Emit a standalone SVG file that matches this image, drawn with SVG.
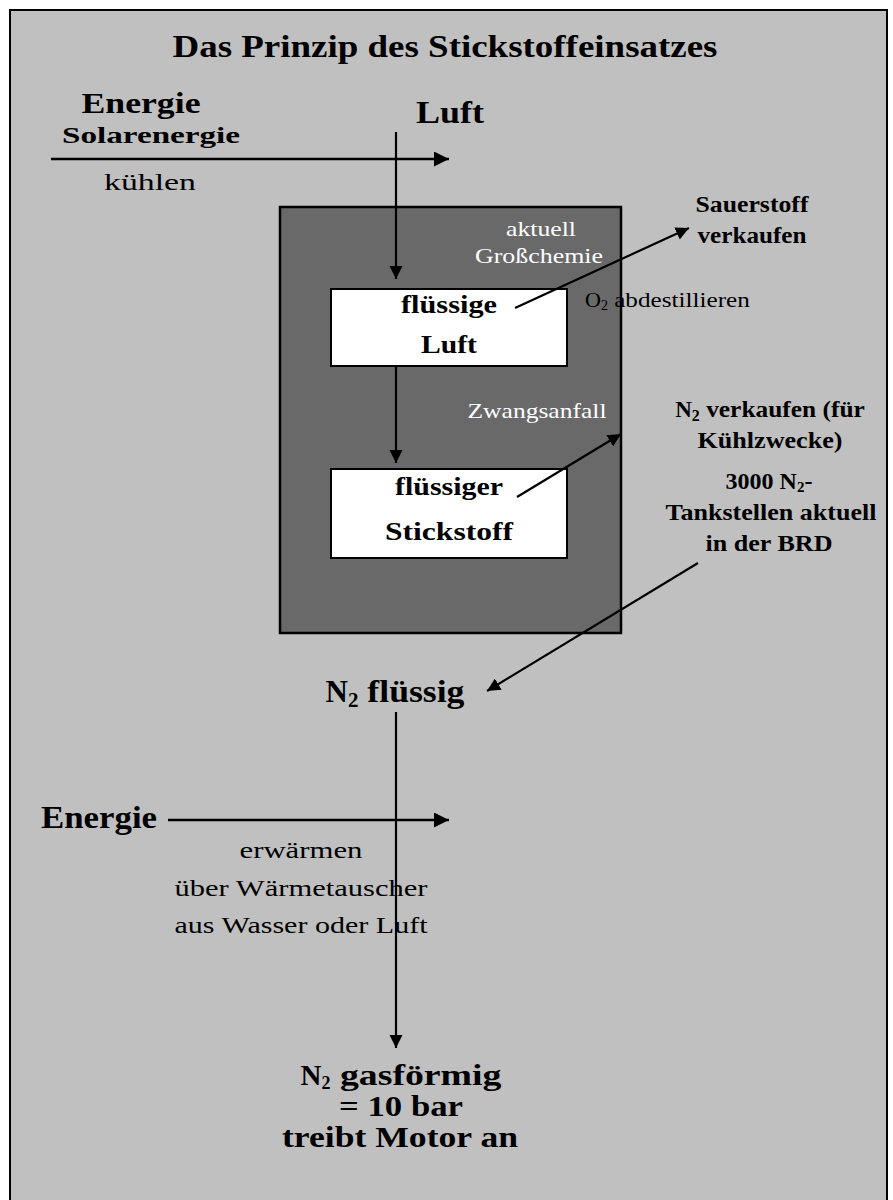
<svg xmlns="http://www.w3.org/2000/svg" width="893" height="1200" viewBox="0 0 893 1200">
<style>
text{font-family:"Liberation Serif","DejaVu Serif",serif;fill:#000}
.b{font-weight:bold}
.w{fill:#fff}
.c{text-anchor:middle}
.ln{stroke:#000;stroke-width:2.5;fill:none}
.ln2{stroke:#000;stroke-width:2.2;fill:none}
</style>
<defs>
<marker id="ah" viewBox="0 0 10 10" refX="10" refY="5" markerWidth="6" markerHeight="6" orient="auto" markerUnits="strokeWidth">
<path d="M0,0 L10,5 L0,10 z" fill="#000"/>
</marker>
</defs>
<rect x="0" y="0" width="893" height="1200" fill="#fff"/>
<rect x="10" y="10" width="877" height="1200" fill="#c0c0c0" stroke="#000" stroke-width="2"/>

<g id="title"><text class="b c" x="445" y="57" font-size="31" textLength="545" lengthAdjust="spacingAndGlyphs">Das Prinzip des Stickstoffeinsatzes</text></g>

<g id="energie1">
<text class="b c" x="141" y="113" font-size="29" textLength="119" lengthAdjust="spacingAndGlyphs">Energie</text>
<text class="b c" x="151" y="143" font-size="24" textLength="178" lengthAdjust="spacingAndGlyphs">Solarenergie</text>
</g>
<g id="kuehlen"><text class="c" x="150" y="190" font-size="23" textLength="92" lengthAdjust="spacingAndGlyphs">kühlen</text></g>
<g id="luft"><text class="b c" x="450" y="123" font-size="31" textLength="68" lengthAdjust="spacingAndGlyphs">Luft</text></g>

<g id="anlage"><rect x="280" y="207" width="341" height="426" fill="#696969" stroke="#000" stroke-width="2.5"/></g>
<g id="aktuell">
<text class="w c" x="541" y="236" font-size="21" textLength="70" lengthAdjust="spacingAndGlyphs">aktuell</text>
<text class="w c" x="539" y="263" font-size="21" textLength="128" lengthAdjust="spacingAndGlyphs">Großchemie</text>
</g>
<g id="zwangsanfall"><text class="w c" x="537" y="418" font-size="21" textLength="139" lengthAdjust="spacingAndGlyphs">Zwangsanfall</text></g>

<g id="fluessigeLuft">
<rect x="331" y="289" width="236" height="77" fill="#fff" stroke="#000" stroke-width="2"/>
<text class="b c" x="449" y="313" font-size="25" textLength="96" lengthAdjust="spacingAndGlyphs">flüssige</text>
<text class="b c" x="449" y="353" font-size="25" textLength="56" lengthAdjust="spacingAndGlyphs">Luft</text>
</g>
<g id="fluessigerStickstoff">
<rect x="331" y="469" width="236" height="89" fill="#fff" stroke="#000" stroke-width="2"/>
<text class="b c" x="449" y="495" font-size="25" textLength="108" lengthAdjust="spacingAndGlyphs">flüssiger</text>
<text class="b c" x="449" y="540" font-size="25" textLength="128" lengthAdjust="spacingAndGlyphs">Stickstoff</text>
</g>

<g id="sauerstoff">
<text class="b c" x="752" y="212" font-size="23" textLength="113" lengthAdjust="spacingAndGlyphs">Sauerstoff</text>
<text class="b c" x="752" y="243" font-size="23" textLength="109" lengthAdjust="spacingAndGlyphs">verkaufen</text>
</g>
<g id="o2"><text x="585" y="307" font-size="22">O<tspan font-size="14" dy="3">2</tspan><tspan dy="-3" textLength="142" lengthAdjust="spacingAndGlyphs"> abdestillieren</tspan></text></g>

<g id="n2verkaufen">
<text class="b c" x="770" y="417" font-size="23">N<tspan font-size="16" dy="4">2</tspan><tspan dy="-4" textLength="165" lengthAdjust="spacingAndGlyphs"> verkaufen (für</tspan></text>
<text class="b c" x="770" y="448" font-size="23" textLength="145" lengthAdjust="spacingAndGlyphs">Kühlzwecke)</text>
<text class="b c" x="769" y="489" font-size="24">3000 N<tspan font-size="15" dy="3">2</tspan><tspan dy="-3">-</tspan></text>
<text class="b c" x="771" y="520" font-size="23" textLength="211" lengthAdjust="spacingAndGlyphs">Tankstellen aktuell</text>
<text class="b c" x="769" y="551" font-size="23" textLength="127" lengthAdjust="spacingAndGlyphs">in der BRD</text>
</g>

<g id="n2fluessig"><text class="b c" x="395" y="702" font-size="31">N<tspan font-size="21" dy="5">2</tspan><tspan dy="-5" textLength="106" lengthAdjust="spacingAndGlyphs"> flüssig</tspan></text></g>

<g id="energie2"><text class="b c" x="99" y="828" font-size="31" textLength="116" lengthAdjust="spacingAndGlyphs">Energie</text></g>
<g id="erwaermen">
<text class="c" x="301" y="858" font-size="23" textLength="123" lengthAdjust="spacingAndGlyphs">erwärmen</text>
<text class="c" x="301" y="896" font-size="23" textLength="253" lengthAdjust="spacingAndGlyphs">über Wärmetauscher</text>
<text class="c" x="301" y="933" font-size="23" textLength="253" lengthAdjust="spacingAndGlyphs">aus Wasser oder Luft</text>
</g>

<g id="n2gas">
<text class="b c" x="401" y="1085" font-size="29">N<tspan font-size="18" dy="4">2</tspan><tspan dy="-4" textLength="171" lengthAdjust="spacingAndGlyphs"> gasförmig</tspan></text>
<text class="b c" x="401" y="1116" font-size="29" textLength="124" lengthAdjust="spacingAndGlyphs">= 10 bar</text>
<text class="b c" x="400" y="1147" font-size="29" textLength="236" lengthAdjust="spacingAndGlyphs">treibt Motor an</text>
</g>

<g id="connectors">
<line class="ln" x1="51" y1="159" x2="449" y2="159" marker-end="url(#ah)"/>
<line class="ln2" x1="396" y1="132" x2="396" y2="279" marker-end="url(#ah)"/>
<line class="ln2" x1="396" y1="366" x2="396" y2="463" marker-end="url(#ah)"/>
<line class="ln2" x1="515" y1="308" x2="689" y2="228" marker-end="url(#ah)"/>
<line class="ln2" x1="517" y1="497" x2="621" y2="434" marker-end="url(#ah)"/>
<line class="ln2" x1="698" y1="563" x2="487" y2="691" marker-end="url(#ah)"/>
<line class="ln2" x1="396" y1="712" x2="396" y2="1048" marker-end="url(#ah)"/>
<line class="ln" x1="168" y1="820" x2="449" y2="820" marker-end="url(#ah)"/>
</g>
</svg>
